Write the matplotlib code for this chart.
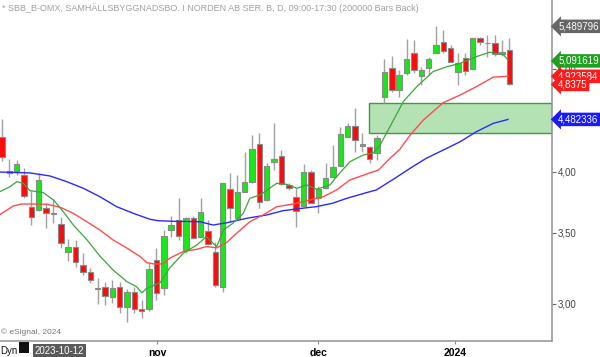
import matplotlib.pyplot as plt
import matplotlib.transforms as mtransforms
from matplotlib.patches import Rectangle
from matplotlib.ticker import NullLocator
import numpy as np

plt.rcParams['font.family'] = ['Liberation Sans', 'DejaVu Sans']

# daily OHLC
opens = [4.31, 4.01, 4.00, 3.971, 3.702, 3.680, 3.694, 3.650, 3.567, 3.361,
         3.398, 3.265, 3.215, 3.098, 3.109, 3.047, 3.113, 2.978, 3.076, 2.968,
         2.966, 3.300, 3.102, 3.523, 3.600, 3.373, 3.618, 3.472, 3.515, 3.361,
         3.109, 3.850, 3.614, 3.830, 3.914, 4.246, 3.761, 4.088, 4.139, 3.886,
         3.788, 3.714, 3.995, 3.775, 3.858, 3.957, 4.053, 4.317, 4.418, 4.233,
         4.223, 4.168, 4.710, 5.017, 4.779, 4.956, 5.176, 4.930, 5.017, 5.176,
         5.309, 5.240, 4.974, 5.121, 5.000, 5.349, 5.293, 5.297, 5.165, 5.214]
highs = [4.49, 4.11, 4.10, 4.033, 3.838, 3.987, 3.739, 3.769, 3.622, 3.452,
         3.447, 3.349, 3.241, 3.171, 3.147, 3.159, 3.147, 3.096, 3.113, 3.025,
         3.277, 3.386, 3.523, 3.632, 3.775, 3.626, 3.632, 3.775, 3.600, 3.434,
         3.902, 3.987, 3.971, 4.175, 4.333, 4.349, 4.077, 4.445, 4.193, 3.902,
         3.861, 4.068, 4.015, 3.878, 4.079, 4.239, 4.412, 4.448, 4.593, 4.349,
         4.230, 4.333, 5.110, 5.147, 4.990, 5.341, 5.329, 5.028, 5.139, 5.490,
         5.447, 5.271, 5.176, 5.176, 5.353, 5.368, 5.388, 5.388, 5.329, 5.349]
lows = [4.09, 3.95, 3.97, 3.777, 3.561, 3.672, 3.536, 3.577, 3.386, 3.295,
        3.252, 3.194, 3.141, 2.999, 2.993, 3.003, 2.939, 2.885, 2.939, 2.907,
        2.954, 3.025, 3.058, 3.472, 3.447, 3.349, 3.455, 3.470, 3.410, 3.113,
        3.080, 3.587, 3.600, 3.827, 3.903, 3.694, 3.753, 4.015, 3.886, 3.844,
        3.548, 3.712, 3.737, 3.653, 3.852, 3.954, 4.050, 4.311, 4.177, 4.177,
        4.079, 4.103, 4.643, 4.758, 4.710, 4.938, 4.956, 4.832, 4.938, 5.176,
        5.179, 5.083, 4.832, 4.938, 4.992, 5.271, 5.139, 5.147, 5.147, 4.830]
closes = [4.13, 3.99, 4.065, 3.794, 3.622, 3.928, 3.658, 3.650, 3.427, 3.393,
          3.284, 3.217, 3.159, 3.107, 3.053, 3.107, 2.978, 3.080, 2.965, 2.954,
          3.234, 3.069, 3.477, 3.561, 3.479, 3.618, 3.465, 3.664, 3.415, 3.125,
          3.900, 3.694, 3.825, 3.914, 4.202, 3.747, 4.050, 4.109, 3.894, 3.858,
          3.674, 3.995, 3.739, 3.850, 3.943, 4.039, 4.339, 4.418, 4.286, 4.249,
          4.109, 4.302, 4.974, 4.779, 4.938, 5.110, 4.992, 4.992, 5.110, 5.271,
          5.206, 5.083, 5.065, 4.984, 5.349, 5.302, 5.293, 5.165, 5.194, 4.8375]

# moving averages (bar position, value)
ma_short_x = [-0.27, 1.09, 2.0, 2.9, 3.8, 5.6, 7.0, 8.33, 9.7, 11.5, 13.3, 15.1, 17.0, 18.3,
              19.0, 19.7, 21.5, 22.8, 24.65, 26.5, 27.8, 28.7, 29.2, 30.1, 31.4, 32.8, 33.7,
              35.1, 36.4, 37.35, 38.7, 40.1, 41.4, 42.8, 44.6, 45.5, 47.3, 49.1, 50.5, 51.4,
              52.75, 54.6, 56.4, 58.6, 60.5, 62.3, 64.5, 66.3, 68.2, 68.8]
ma_short = [3.830, 3.871, 3.914, 3.900, 3.838, 3.822, 3.761, 3.666, 3.561, 3.452, 3.329,
            3.229, 3.147, 3.113, 3.072, 3.102, 3.141, 3.243, 3.349, 3.410, 3.472, 3.422,
            3.398, 3.523, 3.575, 3.653, 3.775, 3.802, 3.858, 3.900, 3.891, 3.858, 3.886,
            3.850, 3.886, 3.957, 4.088, 4.147, 4.168, 4.239, 4.412, 4.664, 4.814, 4.974,
            5.028, 5.065, 5.139, 5.189, 5.160, 5.100]
ma_mid_x = [-0.27, 1.54, 2.68, 4.26, 6.08, 7.89, 9.69, 11.5, 13.3, 15.1, 17.0, 18.8, 19.7,
            20.6, 21.9, 22.8, 24.65, 26.5, 27.8, 29.2, 30.55, 31.9, 33.7, 35.5, 37.35, 39.6,
            41.9, 43.7, 45.5, 47.3, 49.6, 51.2, 52.75, 54.1, 55.5, 57.3, 60.0, 62.3, 64.5,
            66.8, 68.8]
ma_mid = [3.644, 3.712, 3.728, 3.728, 3.726, 3.702, 3.653, 3.588, 3.523, 3.447, 3.386,
          3.324, 3.281, 3.272, 3.272, 3.313, 3.361, 3.378, 3.398, 3.388, 3.428, 3.498,
          3.587, 3.640, 3.706, 3.728, 3.761, 3.788, 3.844, 3.928, 3.980, 4.015, 4.118,
          4.200, 4.333, 4.477, 4.649, 4.727, 4.814, 4.915, 4.924]
ma_long_x = [-0.27, 3.8, 6.5, 8.8, 11.05, 13.3, 15.6, 17.85, 20.1, 21.2, 23.25, 26.9, 28.7,
             30.6, 33.3, 36.0, 38.2, 40.9, 42.8, 45.0, 46.9, 49.6, 50.9, 53.2, 55.5, 57.7,
             60.0, 62.3, 64.5, 66.8, 68.8]
ma_long = [3.997, 3.989, 3.963, 3.914, 3.858, 3.788, 3.706, 3.653, 3.606, 3.595, 3.590,
           3.587, 3.561, 3.579, 3.614, 3.640, 3.674, 3.694, 3.707, 3.735, 3.775, 3.822,
           3.844, 3.934, 4.030, 4.119, 4.193, 4.270, 4.364, 4.444, 4.482]

# gap zone
zone_start = 49.94
zone_lo, zone_hi = 4.349, 4.643

last_labels = [("5,489796", 5.489796, "#666666"),
               ("5,091619", 5.091619, "#1fa01f"),
               ("4,923584", 4.923584, "#ff1a1a"),
               ("4,8375", 4.8375, "#ff1a1a"),
               ("4,482336", 4.482336, "#1a1aff")]

ytick_vals = [3.0, 3.5, 4.0, 5.0]
ytick_labels = ["3,00", "3,50", "4,00", "5,00"]
month_pos = [21.07, 43.0, 61.6]
month_labels = ["nov", "dec", "2024"]

fig = plt.figure(figsize=(6, 3.57), dpi=100)
ax = fig.add_axes([0, 16 / 357, 552 / 600, 341 / 357])
ax.set_yscale("log")
xmin, xmax = -0.272, 74.78
ax.set_xlim(xmin, xmax)
ax.set_ylim(2.766, 5.814)

ax.add_patch(Rectangle((zone_start, zone_lo), xmax - zone_start, zone_hi - zone_lo,
                       facecolor="#b5e2b5", edgecolor="#3c9c3c", lw=1.0, zorder=1))

o = np.array(opens); c = np.array(closes)
h = np.array(highs); l = np.array(lows)
x = np.arange(len(o))
cols = np.where(c > o, "#18e818", np.where(c < o, "#ff0a0a", "#777777"))
ax.vlines(x, l, h, color="#a0a0a0", lw=1.0, zorder=2)
body_lo = np.minimum(o, c)
body_h = np.maximum(np.abs(c - o), 0.006)
ax.bar(x, body_h, bottom=body_lo, width=0.74, color=cols, edgecolor="#8a8a8a",
       linewidth=0.8, zorder=3)

ax.plot(ma_long_x, ma_long, color="#2a2aff", lw=1.0, zorder=4)
ax.plot(ma_mid_x, ma_mid, color="#ff4d4d", lw=1.0, zorder=4)
ax.plot(ma_short_x, ma_short, color="#3aa63a", lw=0.9, zorder=4)

ax.yaxis.tick_right()
ax.set_yticks(ytick_vals)
ax.set_yticklabels(ytick_labels)
ax.yaxis.set_minor_locator(NullLocator())
ax.tick_params(axis="y", length=3, width=0.8, color="#666666", labelsize=7,
               labelcolor="#444444", pad=1)
ax.set_xticks(month_pos)
ax.set_xticklabels(month_labels, fontweight="bold")
ax.tick_params(axis="x", length=2, color="#888888", labelsize=7.5, pad=3)
for s in ["top", "left"]:
    ax.spines[s].set_visible(False)
for s in ["right", "bottom"]:
    ax.spines[s].set_color("#999999")
    ax.spines[s].set_linewidth(1.2)

trans = mtransforms.blended_transform_factory(ax.transAxes, ax.transData)
for txt, val, col in last_labels:
    ax.text(1.011, val, txt, transform=trans, ha="left", va="center", fontsize=7,
            color="white", zorder=10, clip_on=False,
            bbox=dict(boxstyle="larrow,pad=0.18", fc=col, ec="none"))

ax.text(0.004, 0.977, "* SBB_B-OMX, SAMHÄLLSBYGGNADSBO. I NORDEN AB SER. B, D, 09:00-17:30 (200000 Bars Back)",
        transform=ax.transAxes, fontsize=6.5, color="#a0a0a0", va="center", ha="left")
ax.text(0.002, 0.025, "© eSignal, 2024", transform=ax.transAxes, fontsize=6,
        color="#777777", va="center", ha="left")

fig.text(0.0, 0.018, "Dyn", fontsize=7, color="#111111", va="center", ha="left")
fig.patches.append(Rectangle((19 / 600, 4 / 357), 10 / 600, 11 / 357, transform=fig.transFigure,
                             facecolor="#111111", edgecolor="none"))
fig.text(35 / 600, 0.018, "2023-10-12", fontsize=7, color="white", va="center", ha="left",
         bbox=dict(boxstyle="square,pad=0.2", fc="#5a5a5a", ec="none"))

fig.savefig("out.png", dpi=100)
